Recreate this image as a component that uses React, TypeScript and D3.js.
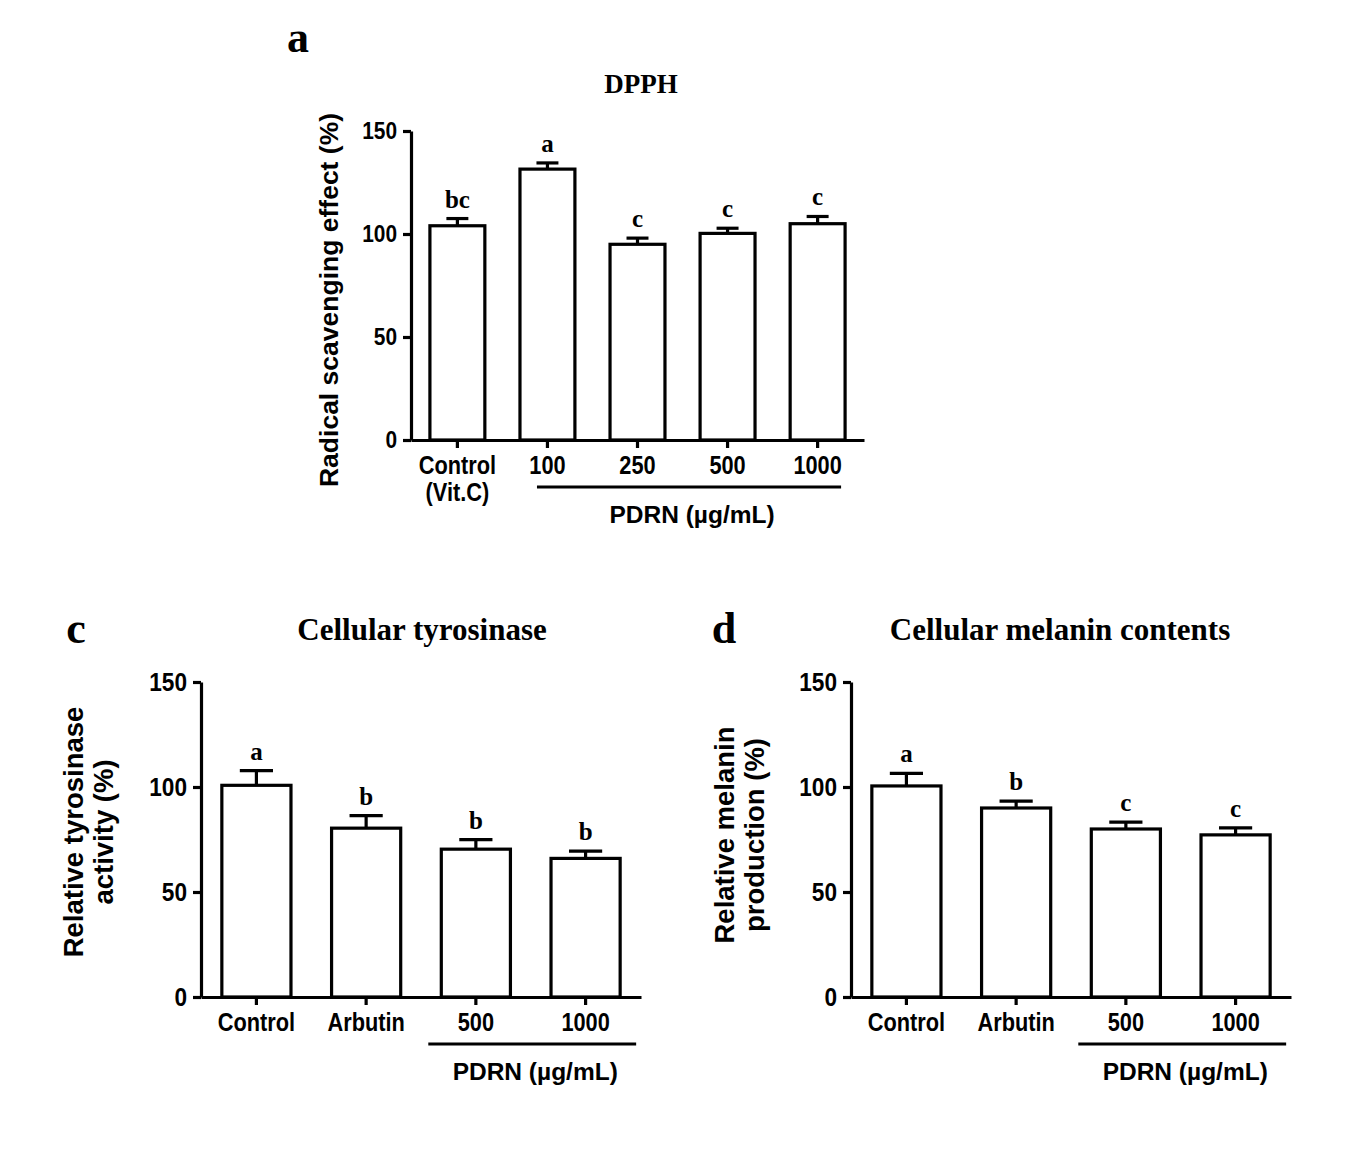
import * as d3 from 'd3';
import React, { useEffect, useRef } from 'react';

// panel a: DPPH radical scavenging
const dpphCategories = ['Control', '100', '250', '500', '1000'];
const dpphMeans = [104, 131.5, 95, 100.3, 105];
const dpphErrors = [3.5, 3, 3, 2.5, 3.5];
const dpphLetters = ['bc', 'a', 'c', 'c', 'c'];

// panel c: cellular tyrosinase
const tyrCategories = ['Control', 'Arbutin', '500', '1000'];
const tyrMeans = [100.8, 80.4, 70.4, 66];
const tyrErrors = [7, 6, 4.5, 3.5];
const tyrLetters = ['a', 'b', 'b', 'b'];

// panel d: cellular melanin contents
const melCategories = ['Control', 'Arbutin', '500', '1000'];
const melMeans = [100.5, 90, 80, 77.2];
const melErrors = [6, 3.3, 3.3, 3.3];
const melLetters = ['a', 'b', 'c', 'c'];

const yTicks = [0, 50, 100, 150];

const SANS = "'Liberation Sans', Arial, sans-serif";
const SERIF = "'Liberation Serif', 'Times New Roman', serif";

// the original lettering is a bit narrower than plain Arial
const SQUEEZE = 0.87;

interface PanelProps {
  categories: string[];
  means: number[];
  errors: number[];
  letters: string[];
  x0: number;
  x1: number;
  yBottom: number;
  yTop: number;
  padInner: number;
  padOuter: number;
  capFrac: number;
  tickFont: number;
  labelFont: number;
  groupFrom: string;
  groupTo: string;
  groupOffL: number;
  groupOffR: number;
  secondLine?: { [key: string]: string };
}

function BarPanel(props: PanelProps) {
  const ref = useRef<SVGGElement>(null);

  useEffect(() => {
    const g = d3.select(ref.current);
    g.selectAll('*').remove();

    const x = d3.scaleBand<string>()
      .domain(props.categories)
      .range([props.x0, props.x1])
      .paddingInner(props.padInner)
      .paddingOuter(props.padOuter);
    const y = d3.scaleLinear().domain([0, 150]).range([props.yBottom, props.yTop]);
    const bw = x.bandwidth();
    const cap = bw * props.capFrac;

    const data = props.categories.map((c, i) => ({
      cat: c, mean: props.means[i], err: props.errors[i], letter: props.letters[i]
    }));

    g.selectAll('rect.bar')
      .data(data)
      .join('rect')
      .attr('class', 'bar')
      .attr('x', d => x(d.cat)!)
      .attr('y', d => y(d.mean))
      .attr('width', bw)
      .attr('height', d => y(0) - y(d.mean))
      .attr('fill', 'white')
      .attr('stroke', 'black')
      .attr('stroke-width', 3.2);

    // error bars (upper only)
    g.selectAll('line.err')
      .data(data)
      .join('line')
      .attr('class', 'err')
      .attr('x1', d => x(d.cat)! + bw / 2)
      .attr('x2', d => x(d.cat)! + bw / 2)
      .attr('y1', d => y(d.mean))
      .attr('y2', d => y(d.mean + d.err))
      .attr('stroke', 'black')
      .attr('stroke-width', 3.2);

    g.selectAll('line.cap')
      .data(data)
      .join('line')
      .attr('class', 'cap')
      .attr('x1', d => x(d.cat)! + bw / 2 - cap / 2)
      .attr('x2', d => x(d.cat)! + bw / 2 + cap / 2)
      .attr('y1', d => y(d.mean + d.err))
      .attr('y2', d => y(d.mean + d.err))
      .attr('stroke', 'black')
      .attr('stroke-width', 3.2);

    g.selectAll('text.sig')
      .data(data)
      .join('text')
      .attr('class', 'sig')
      .attr('x', d => x(d.cat)! + bw / 2)
      .attr('y', d => y(d.mean + d.err) - 11)
      .attr('text-anchor', 'middle')
      .attr('font-family', SERIF)
      .attr('font-weight', 'bold')
      .attr('font-size', 25)
      .text(d => d.letter);

    // y axis
    const yAxis = d3.axisLeft(y).tickValues(yTicks).tickSize(8).tickSizeOuter(0).tickPadding(6);
    const ya = g.append('g')
      .attr('transform', `translate(${props.x0},0)`)
      .call(yAxis);
    ya.select('.domain').attr('stroke-width', 3.2);
    ya.selectAll('.tick line').attr('stroke-width', 3.2);
    ya.selectAll('.tick text')
      .attr('font-family', SANS)
      .attr('font-weight', 'bold')
      .attr('font-size', props.tickFont)
      .attr('fill', 'black')
      .attr('x', -14 / SQUEEZE)
      .attr('transform', `scale(${SQUEEZE},1)`);

    // x axis
    const xAxis = d3.axisBottom(x).tickSize(8).tickSizeOuter(0);
    const xa = g.append('g')
      .attr('transform', `translate(0,${props.yBottom})`)
      .call(xAxis);
    xa.select('.domain').attr('stroke-width', 3.2);
    xa.selectAll('.tick line').attr('stroke-width', 3.2);
    xa.selectAll<SVGTextElement, string>('.tick text')
      .attr('font-family', SANS)
      .attr('font-weight', 'bold')
      .attr('font-size', props.labelFont)
      .attr('fill', 'black')
      .attr('y', 34)
      .attr('dy', null)
      .attr('transform', `scale(${SQUEEZE},1)`)
      .each(function (d) {
        const extra = props.secondLine && props.secondLine[d];
        if (extra) {
          d3.select(this).append('tspan')
            .attr('x', 0)
            .attr('dy', 27)
            .text(extra);
        }
      });

    // PDRN group bracket
    const lx1 = x(props.groupFrom)! + props.groupOffL;
    const lx2 = x(props.groupTo)! + bw + props.groupOffR;
    g.append('line')
      .attr('x1', lx1)
      .attr('x2', lx2)
      .attr('y1', props.yBottom + 47)
      .attr('y2', props.yBottom + 47)
      .attr('stroke', 'black')
      .attr('stroke-width', 3.2);
    g.append('text')
      .attr('x', (lx1 + lx2) / 2 + 3)
      .attr('y', props.yBottom + 83)
      .attr('text-anchor', 'middle')
      .attr('font-family', SANS)
      .attr('font-weight', 'bold')
      .attr('font-size', 24.5)
      .text('PDRN (\u00b5g/mL)');
  }, [props]);

  return <g ref={ref} />;
}

export default function App() {
  const serifBold = { fontFamily: SERIF, fontWeight: 'bold' as const };
  const sansBold = { fontFamily: SANS, fontWeight: 'bold' as const };
  return (
    <svg
      width={1349}
      height={1166}
      style={{ position: 'absolute', left: 0, top: 0, background: 'white' }}
    >
      {/* panel a */}
      <text x={298} y={52} textAnchor="middle" fontSize={44} {...serifBold}>a</text>
      <text x={641} y={93} textAnchor="middle" fontSize={27} {...serifBold}>DPPH</text>
      <text transform="translate(338,300) rotate(-90)" textAnchor="middle" fontSize={26.5} {...sansBold}>
        Radical scavenging effect (%)
      </text>
      <BarPanel
        categories={dpphCategories}
        means={dpphMeans}
        errors={dpphErrors}
        letters={dpphLetters}
        x0={411}
        x1={864}
        yBottom={440}
        yTop={131}
        padInner={0.39}
        padOuter={0.21}
        capFrac={0.4}
        tickFont={24}
        labelFont={25}
        groupFrom="100"
        groupTo="1000"
        groupOffL={17}
        groupOffR={-4}
        secondLine={{ Control: '(Vit.C)' }}
      />

      {/* panel c */}
      <text x={76} y={643} textAnchor="middle" fontSize={44} {...serifBold}>c</text>
      <text x={422} y={640} textAnchor="middle" fontSize={31} {...serifBold}>Cellular tyrosinase</text>
      <text transform="translate(83,832) rotate(-90)" textAnchor="middle" fontSize={27.5} {...sansBold}>
        Relative tyrosinase
      </text>
      <text transform="translate(113,832) rotate(-90)" textAnchor="middle" fontSize={27.5} {...sansBold}>
        activity (%)
      </text>
      <BarPanel
        categories={tyrCategories}
        means={tyrMeans}
        errors={tyrErrors}
        letters={tyrLetters}
        x0={201}
        x1={641}
        yBottom={997}
        yTop={682}
        padInner={0.37}
        padOuter={0.19}
        capFrac={0.48}
        tickFont={26}
        labelFont={25}
        groupFrom="500"
        groupTo="1000"
        groupOffL={-13}
        groupOffR={16}
      />

      {/* panel d */}
      <text x={724} y={643} textAnchor="middle" fontSize={44} {...serifBold}>d</text>
      <text x={1060} y={640} textAnchor="middle" fontSize={31} {...serifBold}>Cellular melanin contents</text>
      <text transform="translate(734,835) rotate(-90)" textAnchor="middle" fontSize={27.5} {...sansBold}>
        Relative melanin
      </text>
      <text transform="translate(764,835) rotate(-90)" textAnchor="middle" fontSize={27.5} {...sansBold}>
        production (%)
      </text>
      <BarPanel
        categories={melCategories}
        means={melMeans}
        errors={melErrors}
        letters={melLetters}
        x0={851}
        x1={1291}
        yBottom={997}
        yTop={682}
        padInner={0.37}
        padOuter={0.19}
        capFrac={0.48}
        tickFont={26}
        labelFont={25}
        groupFrom="500"
        groupTo="1000"
        groupOffL={-13}
        groupOffR={16}
      />
    </svg>
  );
}
